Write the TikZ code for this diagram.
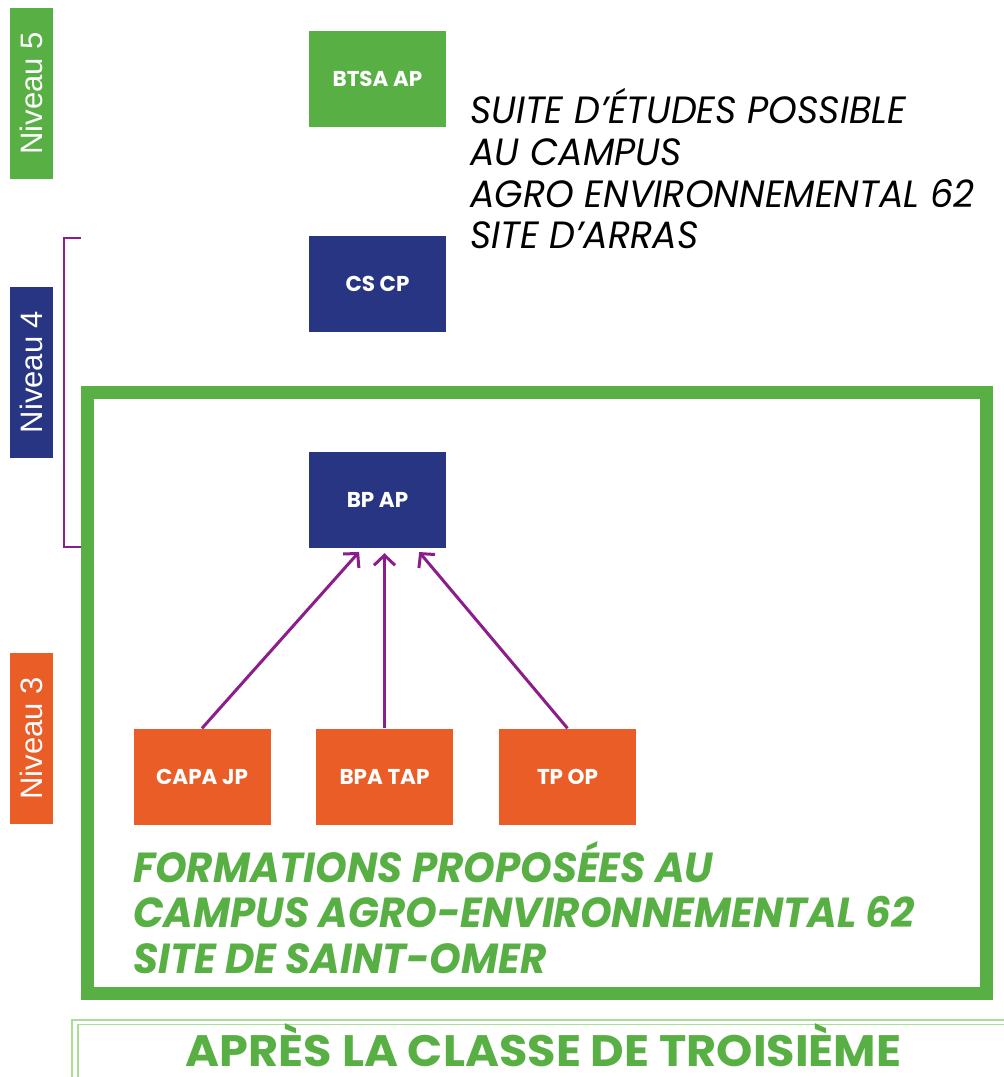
\documentclass[tikz,border=0pt]{standalone}
\usepackage{fontspec}
\setmainfont{Poppins}
\newfontfamily\popb{Poppins}[UprightFont=* SemiBold, BoldFont=* Bold, ItalicFont=* Italic, BoldItalicFont=* Bold Italic]
\newfontfamily\arialfont{Liberation Sans}
\usetikzlibrary{arrows.meta,calc}
\definecolor{vert}{RGB}{88,176,68}
\definecolor{vertclair}{RGB}{170,222,150}
\definecolor{bleu}{RGB}{40,53,131}
\definecolor{orange}{RGB}{234,93,38}
\definecolor{violet}{RGB}{140,30,140}
\begin{document}
\begin{tikzpicture}[x=1pt,y=-1pt,
  formbox/.style={minimum width=137pt,minimum height=96pt,inner sep=0pt,text=white,font=\popb\fontsize{21.5}{21.5}\bfseries\selectfont},
  niveau/.style={minimum width=171pt,minimum height=43pt,inner sep=0pt,text=white,rotate=90,font=\arialfont\fontsize{31}{31}\selectfont},
  arr/.style={draw=violet,line width=3pt,-{Straight Barb[length=10pt,width=21pt,line width=3pt]}},
  titre/.style={anchor=base west,inner sep=0pt,font=\fontsize{38}{38}\itshape\selectfont},
  vtitre/.style={anchor=base west,inner sep=0pt,text=vert,font=\fontsize{42}{42}\bfseries\itshape\selectfont}]
\useasboundingbox (0,0) rectangle (1004,1077);
\fill[white] (0,0) rectangle (1004,1077);
% level tabs
\node[niveau,fill=vert] (n5) at (31.5,93.5) {Niveau 5};
\node[niveau,fill=bleu] (n4) at (31.5,372) {Niveau 4};
\node[niveau,fill=orange] (n3) at (31.5,738.5) {Niveau 3};
% bracket
\coordinate (bt) at (81,238);
\coordinate (bb) at (81,547);
\draw[violet,line width=2pt] (bt) -- ++(-17,0) |- (bb);
% frame
\draw[vert,line width=13pt] (87.5,392.5) rectangle (986.5,993.5);
% boxes
\node[formbox,fill=vert] (btsa) at (377.5,79) {BTSA AP};
\node[formbox,fill=bleu] (cscp) at (377.5,283.5) {CS CP};
\node[formbox,fill=bleu] (bpap) at (377.5,500) {BP AP};
\node[formbox,fill=orange] (capa) at (202,776.5) {CAPA JP};
\node[formbox,fill=orange] (bpa) at (384.5,776.5) {BPA TAP};
\node[formbox,fill=orange] (tpop) at (567.5,776.5) {TP OP};
% arrows
\draw[arr,shorten >=5pt] (capa.north) -- ($(bpap.south west)!0.39!(bpap.south east)$);
\draw[arr,shorten >=5pt] (bpa.north) -- (bpa.north |- bpap.south);
\draw[arr,shorten >=5pt] (tpop.north) -- ($(bpap.south west)!0.78!(bpap.south east)$);
% black title
\node[titre] (t1) at (470,123) {\scalebox{0.96}[1]{SUITE D’ÉTUDES POSSIBLE}};
\node[titre] (t2) at (470,165) {\scalebox{0.96}[1]{AU CAMPUS}};
\node[titre] (t3) at (470,207) {\scalebox{0.96}[1]{AGRO ENVIRONNEMENTAL 62}};
\node[titre] (t4) at (470,248) {\scalebox{0.96}[1]{SITE D’ARRAS}};
% green title
\node[vtitre] (g1) at (133,882) {\scalebox{0.96}[1]{FORMATIONS PROPOSÉES AU}};
\node[vtitre] (g2) at (133,927) {\scalebox{0.96}[1]{CAMPUS AGRO-ENVIRONNEMENTAL 62}};
\node[vtitre] (g3) at (133,973) {\scalebox{0.96}[1]{SITE DE SAINT-OMER}};
% banner
\draw[vertclair,line width=1.5pt] (1010,1020) -- (72,1020) -- (72,1085);
\draw[vertclair,line width=1.5pt] (1010,1024.5) -- (78,1024.5) -- (78,1085);
\node[anchor=base,inner sep=0pt,text=vert,font=\fontsize{44}{44}\bfseries\selectfont] (ban) at (543.5,1066) {\scalebox{1.05}[1]{APRÈS LA CLASSE DE TROISIÈME}};
\end{tikzpicture}
\end{document}
